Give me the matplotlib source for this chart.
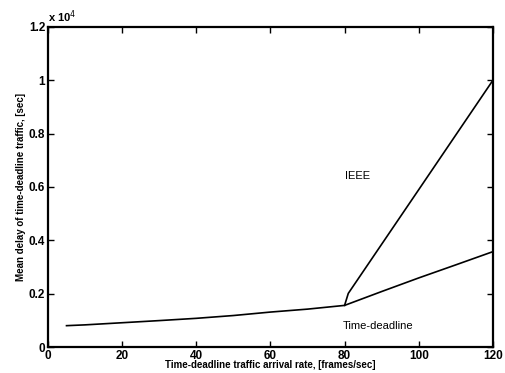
import matplotlib
matplotlib.use("Agg")
import matplotlib.pyplot as plt

plt.rcParams['font.family'] = ['Liberation Sans', 'DejaVu Sans']

# time-deadline scheme
td_rate = [5, 10, 20, 30, 40, 50, 60, 70, 80, 90, 100, 110, 120]
td_delay = [800, 830, 910, 990, 1075, 1180, 1310, 1420, 1560, 2080, 2590, 3080, 3575]

# IEEE scheme (splits off at 80 frames/sec)
ieee_rate = [80, 81, 100, 120]
ieee_delay = [1560, 2010, 5900, 10000]

xticks = [0, 20, 40, 60, 80, 100, 120]
yticks = [0, 2000, 4000, 6000, 8000, 10000, 12000]
ytick_labels = ['0', '0.2', '0.4', '0.6', '0.8', '1', '1.2']

fig = plt.figure(figsize=(5.05, 3.73), dpi=100)
ax = fig.add_axes([0.095, 0.0697, 0.881, 0.858])

ax.plot(td_rate, td_delay, color='black', lw=1.2)
ax.plot(ieee_rate, ieee_delay, color='black', lw=1.2)

ax.set_xlim(0, 120)
ax.set_ylim(0, 12000)
ax.set_xticks(xticks)
ax.set_yticks(yticks)
ax.set_yticklabels(ytick_labels)
ax.tick_params(direction='in', top=True, right=True, length=4, width=1,
               labelsize=8.5, pad=2)
for lbl in ax.get_xticklabels() + ax.get_yticklabels():
    lbl.set_fontweight('bold')
for s in ax.spines.values():
    s.set_linewidth(1.6)

ax.text(0.0, 1.005, r'x 10$^4$', transform=ax.transAxes, fontsize=8,
        fontweight='bold', ha='left', va='bottom')

ax.text(83.6, 6400, 'IEEE', fontsize=8, ha='center', va='center')
ax.text(89, 800, 'Time-deadline', fontsize=8, ha='center', va='center')

ax.set_xlabel('Time-deadline traffic arrival rate, [frames/sec]', fontsize=7,
              fontweight='bold', labelpad=-1)
ax.set_ylabel('Mean delay of time-deadline traffic, [sec]', fontsize=7,
              fontweight='bold', labelpad=2)

fig.savefig('out.png', dpi=100)
